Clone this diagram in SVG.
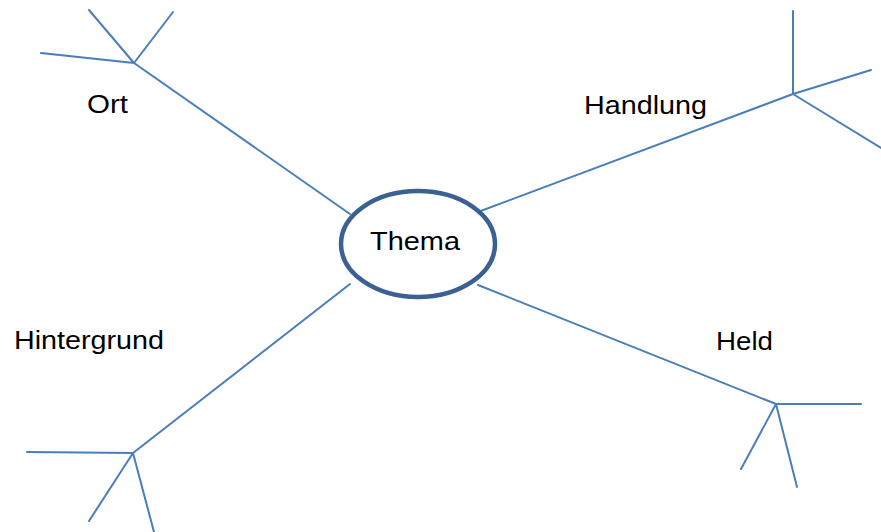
<svg xmlns="http://www.w3.org/2000/svg" width="881" height="532" viewBox="0 0 881 532">
<style>
.ln{stroke:#4a7ebb;stroke-width:2;fill:none;stroke-linecap:round}
.lbl{font-family:"Liberation Sans",Arial,sans-serif;font-size:26px;fill:#000}
</style>
<rect width="881" height="532" fill="#fff"/>
<g id="connectors">
<path class="ln" d="M350,214 L134,63 M134,63 L89,10 M134,63 L173,12 M134,63 L41,53"/>
<path class="ln" d="M478,212 L793,94 M793,94 L793,11 M793,94 L871,70 M793,94 L881,148"/>
<path class="ln" d="M350,284 L133,453 M133,453 L27,452 M133,453 L89,521 M133,453 L154,532"/>
<path class="ln" d="M478,285 L776,404 M776,404 L861,404 M776,404 L741,469 M776,404 L797,487"/>
</g>
<g id="thema">
<ellipse cx="418" cy="244" rx="77" ry="53" fill="#fff" stroke="#3b6193" stroke-width="4.5"/>
<text class="lbl" x="370" y="250" textLength="90" lengthAdjust="spacingAndGlyphs">Thema</text>
</g>
<g id="ort"><text class="lbl" x="87" y="113" textLength="41" lengthAdjust="spacingAndGlyphs">Ort</text></g>
<g id="handlung"><text class="lbl" x="584" y="114" textLength="123" lengthAdjust="spacingAndGlyphs">Handlung</text></g>
<g id="hintergrund"><text class="lbl" x="14" y="349" textLength="150" lengthAdjust="spacingAndGlyphs">Hintergrund</text></g>
<g id="held"><text class="lbl" x="716" y="350" textLength="57" lengthAdjust="spacingAndGlyphs">Held</text></g>
</svg>
